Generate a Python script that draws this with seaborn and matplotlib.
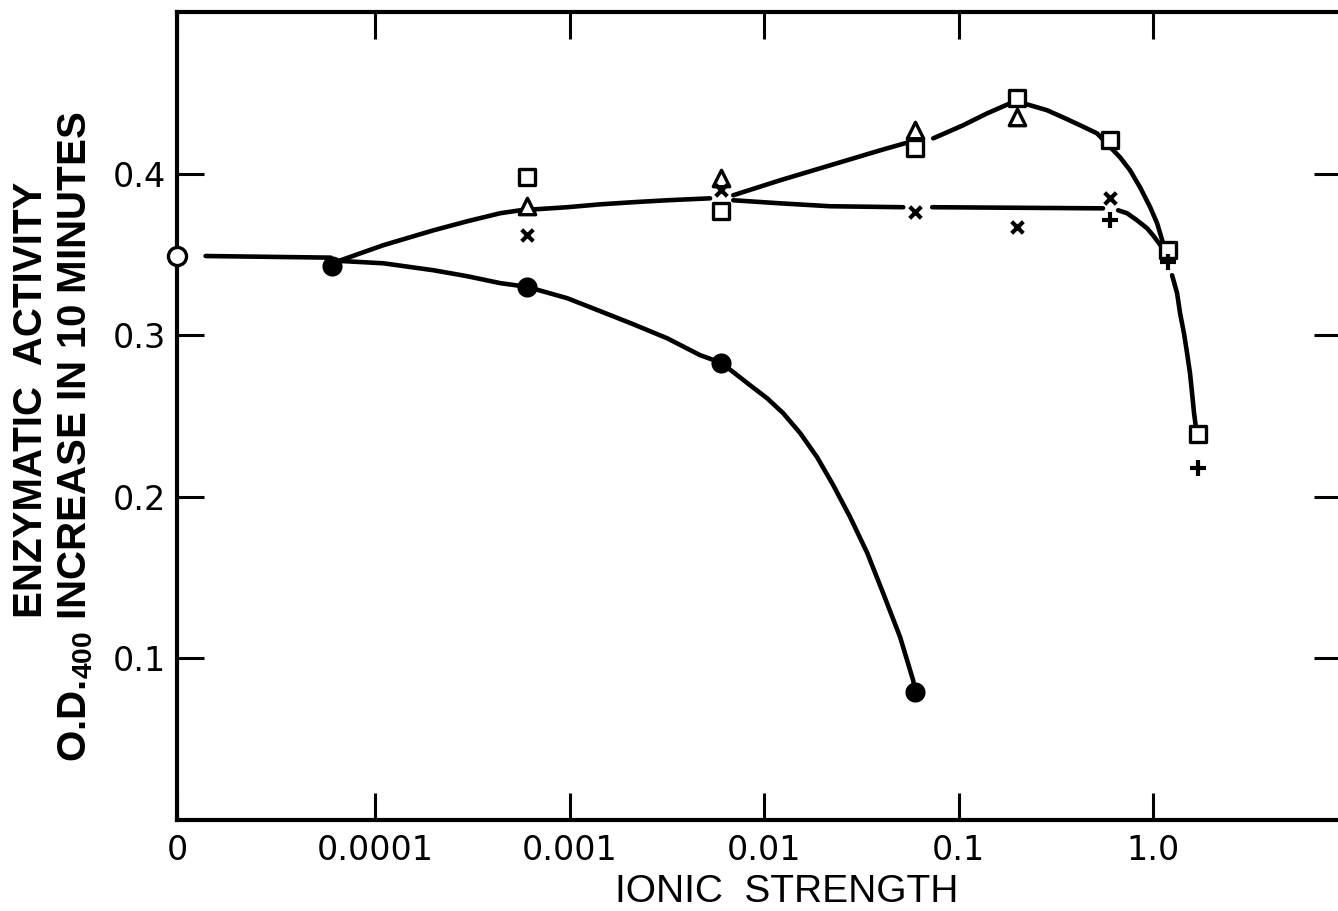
import numpy as np
import matplotlib
matplotlib.use("Agg")
import matplotlib.pyplot as plt
import seaborn as sns

### Data ###
# ionic strength of each point (0 = no salt added) and O.D.400 increase in 10 min
open_ionic = [0.0]
open_od = [0.349]

filled_ionic = [6e-5, 6e-4, 6e-3, 6e-2]
filled_od = [0.343, 0.330, 0.283, 0.079]

square_ionic = [6e-4, 6e-3, 6e-2, 0.2, 0.6, 1.2, 1.7]
square_od = [0.398, 0.377, 0.416, 0.447, 0.421, 0.353, 0.239]

triangle_ionic = [6e-4, 6e-3, 6e-2, 0.2]
triangle_od = [0.380, 0.397, 0.427, 0.435]

cross_ionic = [6e-4, 6e-3, 6e-2, 0.2, 0.6]
cross_od = [0.362, 0.390, 0.376, 0.367, 0.385]

plus_ionic = [0.6, 1.2, 1.7]
plus_od = [0.371, 0.345, 0.218]

## hand-drawn curves, traced piece by piece (the pen stops at some symbols) ##
flat_ionic = [1.34e-5, 5.9e-5]
flat_od = [0.349, 0.348]

drop_ionic = [6.46e-5, 1.10e-4, 1.99e-4, 2.97e-4, 4.40e-4, 6.0e-4, 9.70e-4, 1.44e-3,
              2.12e-3, 3.17e-3, 4.69e-3, 6.0e-3, 7.10e-3, 8.47e-3, 1.035e-2, 1.253e-2,
              1.531e-2, 1.871e-2, 2.265e-2, 2.767e-2, 3.39e-2, 4.09e-2, 5.00e-2,
              5.83e-2, 6.0e-2]
drop_od = [0.346, 0.3445, 0.3402, 0.3365, 0.3322, 0.330, 0.3229, 0.3148,
           0.3068, 0.2981, 0.2876, 0.283, 0.2762, 0.269, 0.261, 0.2517,
           0.2394, 0.2245, 0.2072, 0.1874, 0.1652, 0.1404, 0.1132,
           0.0866, 0.079]

trunk_ionic = [6.5e-5, 1.10e-4, 1.99e-4, 2.97e-4, 4.40e-4, 5.57e-4, 9.70e-4, 1.44e-3,
               2.12e-3, 3.17e-3, 5.27e-3]
trunk_od = [0.346, 0.3557, 0.3649, 0.3705, 0.3755, 0.3773, 0.3792, 0.381,
            0.3823, 0.3835, 0.3847]

upper1_ionic = [6.93e-3, 1.21e-2, 2.18e-2, 3.95e-2, 5.31e-2]
upper1_od = [0.3866, 0.3959, 0.4051, 0.4144, 0.4188]

upper2_ionic = [0.074, 0.1054, 0.1403, 0.1841, 0.2, 0.2333, 0.2851, 0.3443, 0.4217,
                0.5152, 0.6761, 0.762, 0.8573, 0.9664, 1.049, 1.126, 1.2]
upper2_od = [0.4218, 0.4299, 0.4373, 0.4435, 0.4445, 0.4423, 0.4392, 0.4348, 0.4299,
             0.4249, 0.4101, 0.402, 0.3915, 0.3792, 0.3693, 0.3569, 0.352]

tail_ionic = [1.253, 1.329, 1.377, 1.442, 1.496, 1.549, 1.587, 1.625, 1.663]
tail_od = [0.3371, 0.326, 0.3136, 0.3012, 0.2889, 0.2765, 0.2641, 0.2517, 0.2425]

lower1_ionic = [6.93e-3, 1.21e-2, 2.18e-2, 5.19e-2]
lower1_od = [0.3835, 0.3816, 0.3798, 0.3792]

lower2_ionic = [7.31e-2, 0.553]
lower2_od = [0.3792, 0.3785]

lower3_ionic = [0.661, 0.7345, 0.827, 0.931, 1.0, 1.112, 1.2]
lower3_od = [0.3773, 0.3755, 0.3711, 0.3662, 0.3618, 0.3544, 0.352]

x_tick_values = [0.0, 1e-4, 1e-3, 1e-2, 1e-1, 1.0]
x_tick_labels = ["0", "0.0001", "0.001", "0.01", "0.1", "1.0"]
y_tick_values = [0.1, 0.2, 0.3, 0.4]
y_tick_labels = ["0.1", "0.2", "0.3", "0.4"]

# the "0" point sits one decade left of 0.0001
ZERO_POS = -5.02


def to_pos(ionic):
    a = np.asarray(ionic, dtype=float)
    return np.where(a > 0, np.log10(np.where(a > 0, a, 1.0)), ZERO_POS)


### Plot ###
sns.set_style("ticks")
plt.rcParams["font.family"] = ["DejaVu Sans"]
plt.rcParams["mathtext.default"] = "regular"
plt.rcParams["text.color"] = "black"

fig = plt.figure(figsize=(13.38, 9.11), dpi=100)
ax = fig.add_axes([177 / 1338, 91 / 911, (1341 - 177) / 1338, (820 - 12) / 911])

pieces = [(flat_ionic, flat_od), (drop_ionic, drop_od), (trunk_ionic, trunk_od),
          (upper1_ionic, upper1_od), (upper2_ionic, upper2_od), (tail_ionic, tail_od),
          (lower1_ionic, lower1_od), (lower2_ionic, lower2_od), (lower3_ionic, lower3_od)]
for xs, ys in pieces:
    sns.lineplot(x=to_pos(xs), y=ys, ax=ax, sort=False, estimator=None,
                 color="black", linewidth=3.3, solid_capstyle="round",
                 solid_joinstyle="round", zorder=2)

# symbols
sns.scatterplot(x=to_pos(filled_ionic), y=filled_od, ax=ax, marker="o", s=210,
                color="black", edgecolor="black", linewidth=0, zorder=4)
sns.scatterplot(x=to_pos(open_ionic), y=open_od, ax=ax, marker="o", s=170,
                color="black", facecolor="white", edgecolor="black", linewidth=2.4,
                zorder=5, clip_on=False)
sns.scatterplot(x=to_pos(square_ionic), y=square_od, ax=ax, marker="s", s=125,
                color="black", facecolor="white", edgecolor="black", linewidth=2.4, zorder=4)
sns.scatterplot(x=to_pos(triangle_ionic), y=triangle_od, ax=ax, marker="^", s=140,
                color="black", facecolor="white", edgecolor="black", linewidth=2.4, zorder=4)
sns.scatterplot(x=to_pos(cross_ionic), y=cross_od, ax=ax, marker="x", s=70,
                color="black", linewidth=3.0, zorder=4)
sns.scatterplot(x=to_pos(plus_ionic), y=plus_od, ax=ax, marker="+", s=140,
                color="black", linewidth=3.0, zorder=4)

#Formatting
ax.set_xlim(ZERO_POS, (1341 - 375) / 194.5 - 4)
ax.set_ylim(0, 0.5)
ax.set_xticks(to_pos(x_tick_values))
ax.set_xticklabels(x_tick_labels)
ax.set_yticks(y_tick_values)
ax.set_yticklabels(y_tick_labels)
ax.tick_params(axis="both", direction="in", length=19.5, width=2.2,
               top=True, right=True, labelsize=24, colors="black")
ax.tick_params(axis="x", pad=10)
ax.tick_params(axis="y", pad=8)
for s in ax.spines.values():
    s.set_linewidth(3)
    s.set_color("black")
ax.set_xlabel("")
ax.set_ylabel("")

fig.text(787 / 1338, 1 - 892 / 911, "IONIC  STRENGTH", ha="center", va="center",
         family=["Liberation Sans", "DejaVu Sans"], fontsize=28, color="black")
fig.text(31 / 1338, 1 - 400 / 911, "ENZYMATIC  ACTIVITY", rotation=90,
         ha="center", va="center", family=["Liberation Sans", "DejaVu Sans"],
         fontweight="bold", fontsize=29, color="black")
fig.text(76 / 1338, 1 - 437 / 911, r"O.D.$_{400}$ INCREASE IN 10 MINUTES", rotation=90,
         ha="center", va="center", family=["Liberation Sans", "DejaVu Sans"],
         fontweight="bold", fontsize=29, color="black")

plt.savefig("out.png", dpi=100)
